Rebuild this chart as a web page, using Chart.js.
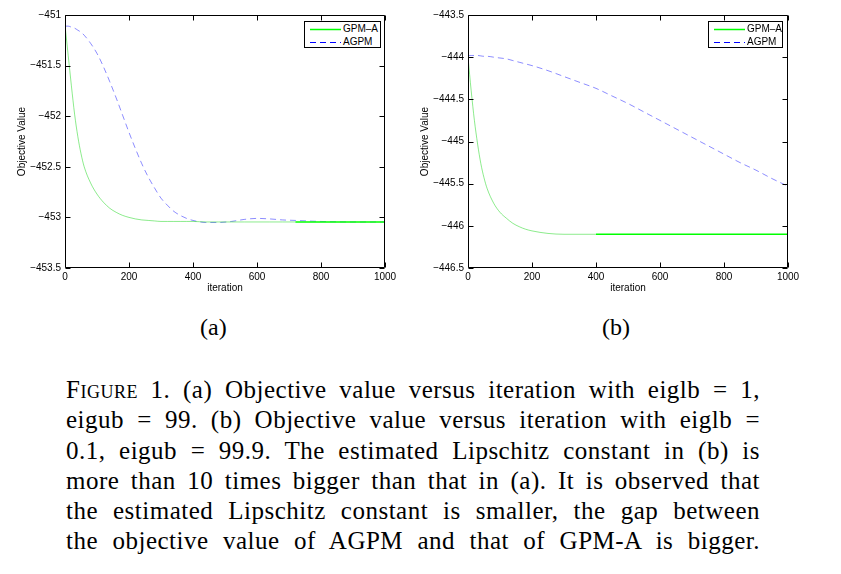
<!DOCTYPE html>
<html>
<head>
<meta charset="utf-8">
<script src="https://cdn.jsdelivr.net/npm/chart.js@4.4.1/dist/chart.umd.min.js"></script>
<style>
  body { margin: 0; background: #fff; width: 841px; height: 574px; position: relative; overflow: hidden; }
  .panel { position: absolute; top: 0; width: 400px; height: 300px; }
  .legend { position: absolute; top: 21px; height: 25px; border: 1px solid #000; background: #fff;
            font: 10px "Liberation Sans", Arial, sans-serif; color: #000; white-space: nowrap; }
  .legend div { display: flex; align-items: center; height: 13px; padding-left: 5px; }
  .legend svg { margin-right: 2px; flex: none; }
  .sub { position: absolute; top: 314px; font: 24px "Liberation Serif", serif; }
  #caption { position: absolute; left: 66px; top: 375px; width: 694px; font: 25px "Liberation Serif", serif;
             letter-spacing: 0.5px; line-height: 30.3px; color: #000; }
  #caption div { text-align: justify; text-align-last: justify; }
</style>
</head>
<body>
<div class="panel" style="left:0px"><canvas id="chartA" width="400" height="300"></canvas></div>
<div class="panel" style="left:403px"><canvas id="chartB" width="400" height="300"></canvas></div>
<div class="legend" id="legendA" style="left:304px; width:75px"></div>
<div class="legend" id="legendB" style="left:708px; width:73px"></div>
<div class="sub" style="left:200px">(a)</div>
<div class="sub" style="left:602px">(b)</div>
<div id="caption">
  <div><span style="font-variant: small-caps">Figure</span> 1. (a) Objective value versus iteration with eiglb = 1,</div>
  <div>eigub = 99. (b) Objective value versus iteration with eiglb =</div>
  <div>0.1, eigub = 99.9. The estimated Lipschitz constant in (b) is</div>
  <div>more than 10 times bigger than that in (a). It is observed that</div>
  <div>the estimated Lipschitz constant is smaller, the gap between</div>
  <div>the objective value of AGPM and that of GPM-A is bigger.</div>
</div>
<script>
const seriesNames = ['GPM\u2013A', 'AGPM']

// (a) eiglb = 1, eigub = 99
const iterA = [0, 10, 20, 30, 40, 50, 60, 80, 100, 120, 140, 160, 180, 200, 220, 240, 260, 280, 300,
               320, 340, 360, 380, 400, 440, 480, 520, 560, 600, 640, 680, 720, 800, 900, 1000]
const gpmA = [-451.10, -451.40, -451.70, -451.98, -452.20, -452.37, -452.50, -452.66, -452.77, -452.85,
              -452.91, -452.95, -452.98, -453.00, -453.015, -453.025, -453.03, -453.035, -453.04,
              -453.04, -453.04, -453.04, -453.04, -453.04, -453.045, -453.045, -453.045, -453.045,
              -453.045, -453.045, -453.045, -453.045, -453.045, -453.045, -453.045]
const agpmA = [-451.11, -451.11, -451.12, -451.13, -451.15, -451.17, -451.20, -451.28, -451.38, -451.51,
               -451.66, -451.82, -451.99, -452.16, -452.32, -452.47, -452.60, -452.71, -452.81,
               -452.88, -452.94, -452.98, -453.01, -453.03, -453.05, -453.05, -453.04, -453.02,
               -453.01, -453.015, -453.025, -453.03, -453.04, -453.045, -453.045]
const yRangeA = [-453.5, -451]

// (b) eiglb = 0.1, eigub = 99.9
const iterB = [0, 10, 20, 30, 40, 50, 60, 80, 100, 120, 140, 160, 180, 200, 250, 300, 350, 400,
               450, 500, 550, 600, 650, 700, 750, 800, 850, 900, 950, 1000]
const gpmB = [-444.00, -444.40, -444.75, -445.03, -445.26, -445.43, -445.56, -445.73, -445.84, -445.91,
              -445.97, -446.01, -446.04, -446.06, -446.09, -446.10, -446.10, -446.10, -446.10, -446.10,
              -446.10, -446.10, -446.10, -446.10, -446.10, -446.10, -446.10, -446.10, -446.10, -446.10]
const agpmB = [-443.98, -443.98, -443.98, -443.98, -443.985, -443.99, -443.99, -444.00, -444.01, -444.02,
               -444.04, -444.06, -444.08, -444.10, -444.16, -444.23, -444.30, -444.37, -444.46, -444.55,
               -444.65, -444.75, -444.85, -444.95, -445.05, -445.15, -445.25, -445.34, -445.44, -445.53]
const yRangeB = [-446.5, -443.5]

const green = '#00ff00'
const fadedGreen = 'rgba(0, 210, 0, 0.45)'
const blue = '#0000ff'
const fadedBlue = 'rgba(0, 0, 255, 0.45)'
const tickFont = { family: '"Liberation Sans", Arial, sans-serif', size: 10 }

function fmtTick(v) {
    v = Math.round(v * 10) / 10
    return (v < 0 ? '\u2212' : '') + Math.abs(v)
}

// MATLAB style box with inward ticks on all four sides
const frameTicks = {
    id: 'frameTicks',
    afterDraw(chart) {
        const { ctx, chartArea: a, scales: { x, y } } = chart
        const L = Math.round(a.left) + 0.5, R = Math.round(a.right) - 0.5
        const T = Math.round(a.top) + 0.5, B = Math.round(a.bottom) - 0.5
        ctx.save()
        ctx.strokeStyle = '#000'
        ctx.lineWidth = 1
        ctx.beginPath()
        ctx.rect(L, T, R - L, B - T)
        for (const t of x.ticks) {
            const px = Math.round(x.getPixelForValue(t.value)) + 0.5
            ctx.moveTo(px, B); ctx.lineTo(px, B - 5)
            ctx.moveTo(px, T); ctx.lineTo(px, T + 5)
        }
        for (const t of y.ticks) {
            const py = Math.round(y.getPixelForValue(t.value)) + 0.5
            ctx.moveTo(L, py); ctx.lineTo(L + 5, py)
            ctx.moveTo(R, py); ctx.lineTo(R - 5, py)
        }
        ctx.stroke()
        ctx.restore()
    }
}

function makeChart(id, iters, gpm, agpm, yRange, brightFrom) {
    const pts = vals => iters.map((it, i) => ({ x: it, y: vals[i] }))
    return new Chart(document.getElementById(id), {
        type: 'line',
        data: {
            datasets: [{
                label: seriesNames[0],
                data: pts(gpm),
                borderColor: green,
                borderWidth: 1,
                pointRadius: 0,
                cubicInterpolationMode: 'monotone',
                segment: {
                    borderColor: ctx => ctx.p0.parsed.x < brightFrom ? fadedGreen : green,
                    borderWidth: ctx => ctx.p0.parsed.x < brightFrom ? 1 : 1.5
                }
            }, {
                label: seriesNames[1],
                data: pts(agpm),
                borderColor: fadedBlue,
                borderWidth: 1,
                borderDash: [6, 4],
                pointRadius: 0,
                cubicInterpolationMode: 'monotone'
            }]
        },
        options: {
            responsive: false,
            animation: false,
            devicePixelRatio: 1,
            layout: { padding: { top: 15, right: 15, bottom: 0, left: 0 } },
            plugins: { legend: { display: false }, tooltip: { enabled: false } },
            scales: {
                x: {
                    type: 'linear', min: 0, max: 1000,
                    grid: { display: false, drawTicks: false },
                    border: { display: false },
                    ticks: { stepSize: 200, maxRotation: 0, padding: 3, color: '#000', font: tickFont,
                             callback: v => String(v) },
                    title: { display: true, text: 'iteration', color: '#000', font: tickFont, padding: { top: 0, bottom: 6 } },
                    afterFit: axis => { axis.height = 32 }
                },
                y: {
                    min: yRange[0], max: yRange[1],
                    grid: { display: false, drawTicks: false },
                    border: { display: false },
                    ticks: { stepSize: 0.5, padding: 4, color: '#000', font: tickFont, callback: fmtTick },
                    title: { display: true, text: 'Objective Value', color: '#000', font: tickFont, padding: { top: 16, bottom: 0 } },
                    afterFit: axis => { axis.width = 65 }
                }
            }
        },
        plugins: [frameTicks]
    })
}

function buildLegend(id) {
    const styles = [
        { color: green, dash: '', width: 1.5 },
        { color: blue, dash: '6,4', width: 1 }
    ]
    document.getElementById(id).innerHTML = seriesNames.map((name, i) =>
        '<div><svg width="31" height="8"><line x1="0" y1="4.5" x2="31" y2="4.5" stroke="' + styles[i].color +
        '" stroke-width="' + styles[i].width + '" stroke-dasharray="' + styles[i].dash + '"/></svg>' + name + '</div>'
    ).join('')
}

makeChart('chartA', iterA, gpmA, agpmA, yRangeA, 700)
makeChart('chartB', iterB, gpmB, agpmB, yRangeB, 400)
buildLegend('legendA')
buildLegend('legendB')
</script>
</body>
</html>
